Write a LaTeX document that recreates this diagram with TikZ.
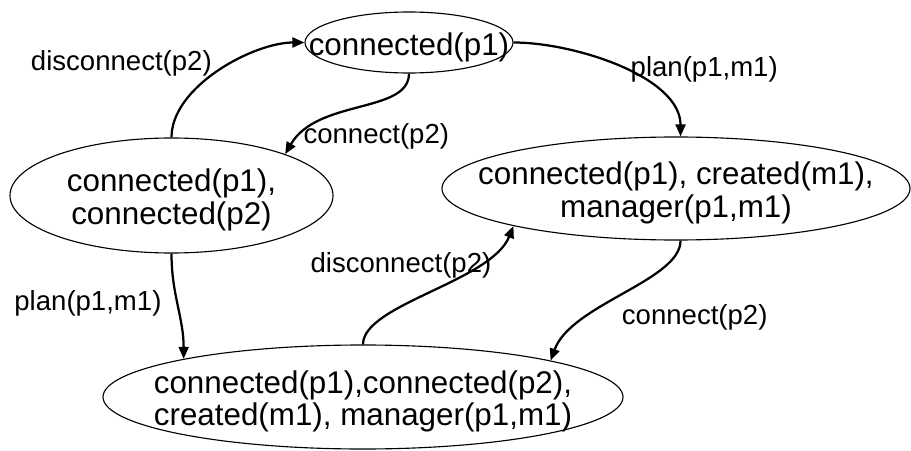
\documentclass[tikz,border=0pt]{standalone}
\usepackage{fontspec}
\setmainfont{Liberation Sans}
\usetikzlibrary{arrows.meta,positioning,shapes.geometric}

\begin{document}
\begin{tikzpicture}[
    node distance=1cm and 1cm, on grid,
    state/.style={draw, ellipse, line width=0.8pt, inner sep=0pt},
    statetext/.style={align=center, inner sep=0pt, yshift=-0.11cm, font=\fontsize{22.3}{22.8}\selectfont},
    arrow/.style={-{Triangle[length=8.5pt, width=7pt]}, line width=1.6pt},
    lbl/.style={inner sep=0pt, font=\fontsize{19.6}{22}\selectfont}
]
    \useasboundingbox (0,0) rectangle (22.775,11.25);

    % states
    \node[state, minimum width=5.2cm, minimum height=1.525cm] (top) at (10.225,10.1875) {};
    \node[state, minimum width=8.075cm, minimum height=2.875cm] (left) [below left=3.825cm and 5.9375cm of top] {};
    \node[state, minimum width=11.7cm, minimum height=2.575cm] (right) [below right=3.65cm and 6.675cm of top] {};
    \node[state, minimum width=13cm, minimum height=2.6cm] (bottom) [below right=5.0375cm and 4.7875cm of left] {};

    \node[statetext] (toptxt) at (top) {connected(p1)};
    \node[statetext] (lefttxt) at (left) {connected(p1),\\connected(p2)};
    \node[statetext] (righttxt) at (right) {connected(p1), created(m1),\\manager(p1,m1)};
    \node[statetext] (bottomtxt) at (bottom) {connected(p1),connected(p2),\\created(m1), manager(p1,m1)};

    % transitions
    \draw[arrow] (left.north) to[out=90, in=180, looseness=0.8]
        node[lbl, pos=0.5, anchor=east, xshift=-0.15cm, yshift=0.175cm] (disc1) {disconnect(p2)} (top.west);
    \draw[arrow] (top.south) to[out=-90, in=60, out distance=1cm, in distance=1.6cm]
        node[lbl, pos=0.9, anchor=west, xshift=0.15cm, yshift=0.075cm] (conn1) {connect(p2)} (left.20);
    \draw[arrow] (top.east) to[out=0, in=90, looseness=0.8]
        node[lbl, pos=0.55, anchor=west, yshift=0.075cm] (plan1) {plan(p1,m1)} (right.85);
    \draw[arrow] (left.south) to[out=-90, in=90]
        node[lbl, pos=0.5, anchor=east, xshift=-0.375cm, yshift=0.075cm] (plan2) {plan(p1,m1)} (bottom.168);
    \draw[arrow] (bottom.north) to[out=90, in=-112, out distance=1cm, in distance=1.5cm]
        node[lbl, pos=0.75, anchor=east, xshift=0.3cm, yshift=-0.075cm] (disc2) {disconnect(p2)} (right.193);
    \draw[arrow] (right.-85) to[out=-90, in=70, out distance=1cm, in distance=1.5cm]
        node[lbl, pos=0.6, anchor=west, xshift=0.39cm, yshift=-0.29cm] (conn2) {connect(p2)} (bottom.11);
\end{tikzpicture}
\end{document}
